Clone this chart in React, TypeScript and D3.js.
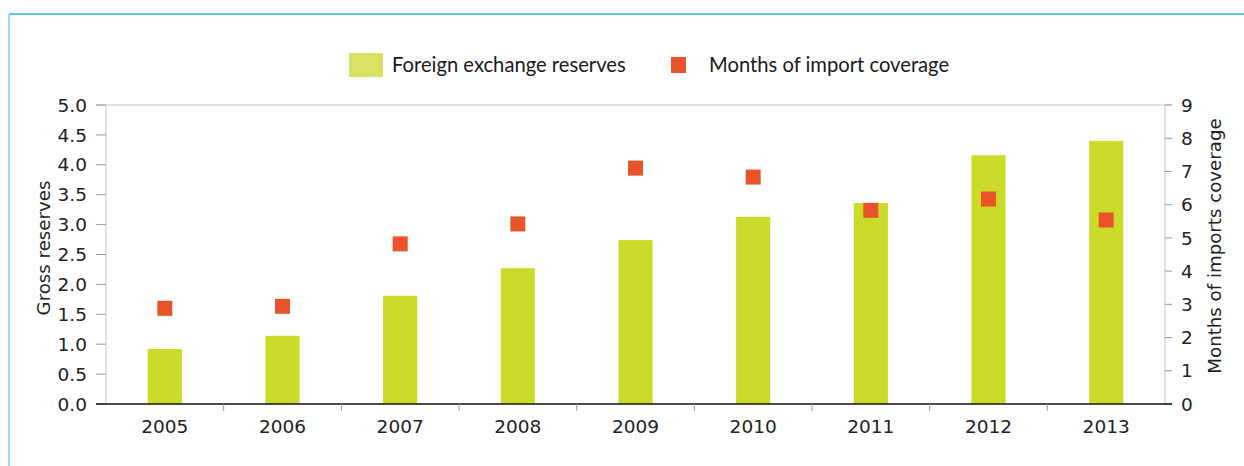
import React from "react";
import * as d3 from "d3";

const years = ["2005", "2006", "2007", "2008", "2009", "2010", "2011", "2012", "2013"];
const reserves = [0.92, 1.14, 1.81, 2.27, 2.74, 3.13, 3.36, 4.16, 4.40];
const importMonths = [2.88, 2.94, 4.82, 5.42, 7.10, 6.83, 5.83, 6.17, 5.54];
const leftTicks = [0, 0.5, 1, 1.5, 2, 2.5, 3, 3.5, 4, 4.5, 5];
const rightTicks = [0, 1, 2, 3, 4, 5, 6, 7, 8, 9];

const W = 1244;
const H = 466;
const plotL = 106;
const plotR = 1165;
const plotT = 105;
const plotB = 404;

const BAR = "#cbdb2a";
const BAR_LEG = "#d6e264";
const SQ = "#e8532b";
const GRID = "#d9d9d9";
const TICK_FONT = "'DejaVu Sans', sans-serif";
const LEG_FONT = "Lato, 'Open Sans', sans-serif";

export default function App() {
  const x = d3.scaleBand<string>().domain(years).range([plotL, plotR]).paddingInner(0).paddingOuter(0);
  const yL = d3.scaleLinear().domain([0, 5]).range([plotB, plotT]);
  const yR = d3.scaleLinear().domain([0, 9]).range([plotB, plotT]);
  const bw = x.bandwidth() * 0.29;
  const sq = 15;

  return (
    <svg width={W} height={H} style={{ position: "absolute", left: 0, top: 0, display: "block" }}>
      <rect x={0} y={0} width={W} height={H} fill="#fff" />
      {/* outer frame */}
      <line x1={9} y1={14} x2={W} y2={14} stroke="#2ab3da" strokeWidth={1.5} />
      <line x1={9} y1={14} x2={9} y2={H} stroke="#7cd0ea" strokeWidth={1.5} />

      {/* legend */}
      <rect x={349} y={53} width={34} height={24} fill={BAR_LEG} />
      <text x={392} y={72} fontFamily={LEG_FONT} fontSize={20.2} fill="#1a1a1a">Foreign exchange reserves</text>
      <rect x={671} y={57} width={15} height={16} fill={SQ} />
      <text x={709} y={72} fontFamily={LEG_FONT} fontSize={20.2} fill="#1a1a1a">Months of import coverage</text>

      {/* plot frame */}
      <line x1={96} y1={plotT} x2={1172} y2={plotT} stroke={GRID} strokeWidth={1.5} />
      <line x1={plotL} y1={plotT} x2={plotL} y2={plotB} stroke={GRID} strokeWidth={1.5} />
      <line x1={plotR} y1={plotT} x2={plotR} y2={plotB} stroke={GRID} strokeWidth={1.5} />

      {/* left axis */}
      {leftTicks.map((t) => (
        <g key={"l" + t}>
          <line x1={96} x2={plotL} y1={yL(t)} y2={yL(t)} stroke="#999" strokeWidth={1} />
          <text x={87} y={yL(t)} dy="0.36em" textAnchor="end" fontFamily={TICK_FONT} fontSize={18.5} fill="#222">
            {t.toFixed(1)}
          </text>
        </g>
      ))}
      {/* right axis */}
      {rightTicks.map((t) => (
        <g key={"r" + t}>
          <line x1={plotR} x2={1172} y1={yR(t)} y2={yR(t)} stroke="#999" strokeWidth={1} />
          <text x={1181} y={yR(t)} dy="0.36em" textAnchor="start" fontFamily={TICK_FONT} fontSize={18.5} fill="#222">
            {t}
          </text>
        </g>
      ))}

      {/* bars */}
      {years.map((yr, i) => (
        <rect
          key={"b" + yr}
          x={(x(yr) as number) + x.bandwidth() / 2 - bw / 2}
          y={yL(reserves[i])}
          width={bw}
          height={plotB - yL(reserves[i])}
          fill={BAR}
        />
      ))}

      {/* squares */}
      {years.map((yr, i) => (
        <rect
          key={"s" + yr}
          x={(x(yr) as number) + x.bandwidth() / 2 - sq / 2}
          y={yR(importMonths[i]) - sq / 2}
          width={sq}
          height={sq}
          fill={SQ}
        />
      ))}

      {/* x axis */}
      <line x1={96} x2={1172} y1={plotB} y2={plotB} stroke="#111" strokeWidth={1.5} />
      {years.slice(1).map((yr) => (
        <line key={"xt" + yr} x1={x(yr) as number} x2={x(yr) as number} y1={plotB} y2={plotB + 7} stroke="#999" strokeWidth={1} />
      ))}
      {years.map((yr) => (
        <text
          key={"xl" + yr}
          x={(x(yr) as number) + x.bandwidth() / 2}
          y={433}
          textAnchor="middle"
          fontFamily={TICK_FONT}
          fontSize={18.5}
          fill="#222"
        >
          {yr}
        </text>
      ))}

      {/* axis titles */}
      <text
        transform={`translate(50, 248) rotate(-90)`}
        textAnchor="middle"
        fontFamily={TICK_FONT}
        fontSize={18.2}
        fill="#222"
      >
        Gross reserves
      </text>
      <text
        transform={`translate(1221, 246) rotate(-90)`}
        textAnchor="middle"
        fontFamily={TICK_FONT}
        fontSize={18.2}
        fill="#222"
      >
        Months of imports coverage
      </text>
    </svg>
  );
}
